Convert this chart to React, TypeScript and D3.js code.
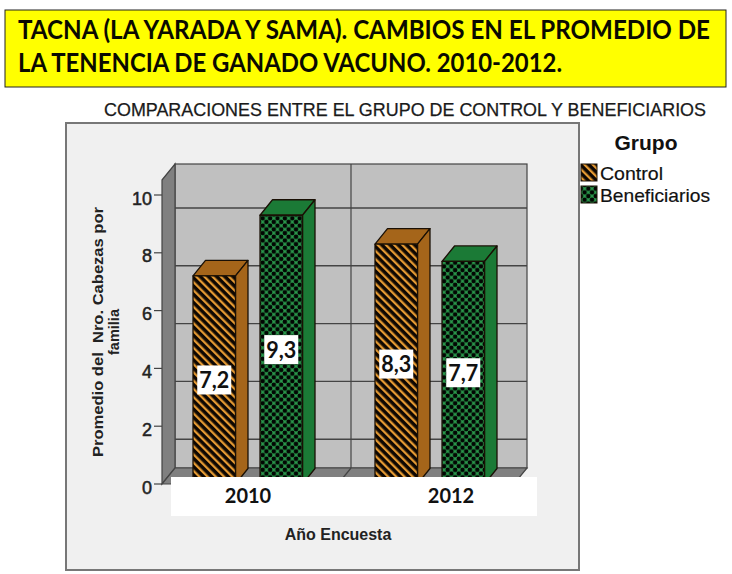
import React from "react";
import * as d3 from "d3";

const years = ["2010", "2012"];
const seriesNames = ["Control", "Beneficiarios"];
const controlValues = [7.2, 8.3];
const beneficiariosValues = [9.3, 7.7];
const valueLabels = [["7,2", "8,3"], ["9,3", "7,7"]];
const yTicks = [0, 2, 4, 6, 8, 10];
const gridTicks = [2, 4, 6, 8, 10];

const y = d3.scaleLinear().domain([0, 10]).range([484, 195]);
const xYear = d3.scalePoint<string>().domain(years).range([247.5, 429.5]);
const xSeries = d3.scaleBand<string>().domain(seriesNames).range([-54.5, 55]).paddingInner(0.366);
const depthX = 12.5;
const depthY = 15.5;
const fills = ["url(#hatchControl)", "url(#hatchBenef)"];
const sides = ["#a5651a", "#1b7a36"];
const sans = "'Liberation Sans', Arial, sans-serif";
const calibri = "Lato, sans-serif";

export default function App() {
  const line = d3.line();
  const wallL = 175, wallR = 527, wallT = 164, wallB = 468;
  const frontL = 162, frontR = 514, frontB = y(0);
  const allValues = [controlValues, beneficiariosValues];
  const p = 7.4;
  return (
    <svg width={732} height={574} style={{ position: "absolute", left: 0, top: 0, display: "block" }}>
      <defs>
        <pattern id="hatchControl" patternUnits="userSpaceOnUse" width={5.8} height={5.8} patternTransform="rotate(45)">
          <rect width={5.8} height={5.8} fill="#e59a33" />
          <rect width={5.8} height={3.5} fill="#0e0702" />
        </pattern>
        <pattern id="hatchBenef" patternUnits="userSpaceOnUse" width={p} height={p}>
          <rect width={p} height={p} fill="#2a9a4c" />
          {[[0, 0], [p, 0], [0, p], [p, p], [p / 2, p / 2]].map(([cx, cy], i) => (
            <circle key={i} cx={cx} cy={cy} r={2.3} fill="#020603" />
          ))}
        </pattern>
      </defs>
      <rect x={0} y={0} width={732} height={574} fill="#ffffff" />

      <rect x={5} y={10} width={721} height={77} fill="#ffff00" stroke="#222" strokeWidth={1} />
      <text transform="translate(18,39) scale(0.895,1)" fontFamily={calibri} fontWeight={700} fontSize={27} fill="#0a0a00">TACNA (LA YARADA Y SAMA). CAMBIOS EN EL PROMEDIO DE</text>
      <text transform="translate(18,72) scale(0.885,1)" fontFamily={calibri} fontWeight={700} fontSize={27} fill="#0a0a00">LA TENENCIA DE GANADO VACUNO. 2010-2012.</text>
      <text x={104} y={116} fontFamily={sans} fontSize={17.5} textLength={602} lengthAdjust="spacingAndGlyphs" fill="#1a1a1a" stroke="#1a1a1a" strokeWidth={0.25}>COMPARACIONES ENTRE EL GRUPO DE CONTROL Y BENEFICIARIOS</text>

      <rect x={66} y={123} width={513} height={447} fill="#f0f0f0" stroke="#777" strokeWidth={2} />

      <rect x={wallL} y={wallT} width={wallR - wallL} height={wallB - wallT} fill="#c0c0c0" stroke="#444" strokeWidth={1.2} />
      <path d={line([[frontL, y(10) - 15], [wallL, wallT], [wallL, wallB], [frontL, frontB]])! + "Z"} fill="#808080" stroke="#444" strokeWidth={1.2} />
      <path d={line([[frontL, frontB], [wallL, wallB], [wallR, wallB], [frontR, frontB]])! + "Z"} fill="#808080" stroke="#444" strokeWidth={1.2} />
      {gridTicks.map((t) => (
        <line key={t} x1={wallL} x2={wallR} y1={y(t) + 13} y2={y(t) + 13} stroke="#444" strokeWidth={1.4} />
      ))}
      <line x1={351} x2={351} y1={wallT} y2={wallB} stroke="#444" strokeWidth={1.2} />
      <line x1={351} x2={338} y1={wallB} y2={frontB} stroke="#444" strokeWidth={1.2} />

      {yTicks.map((t) => (
        <g key={t}>
          <line x1={154} x2={frontL} y1={y(t)} y2={y(t)} stroke="#444" strokeWidth={1.2} />
          <text x={152} y={y(t) + 9.5} textAnchor="end" fontFamily={sans} fontSize={18} fill="#222" stroke="#222" strokeWidth={0.5}>{t}</text>
        </g>
      ))}

      {seriesNames.map((s, si) =>
        years.map((yr, yi) => {
          const v = allValues[si][yi];
          const x0 = xYear(yr)! + xSeries(s)!;
          const x1 = x0 + xSeries.bandwidth();
          const yt = y(v);
          const yb = y(0);
          return (
            <g key={s + yr} stroke="#1a1005" strokeWidth={1.3} strokeLinejoin="round">
              <path d={line([[x0, yt], [x0 + depthX, yt - depthY], [x1 + depthX, yt - depthY], [x1, yt]])! + "Z"} fill={sides[si]} />
              <path d={line([[x1, yt], [x1 + depthX, yt - depthY], [x1 + depthX, yb - depthY], [x1, yb]])! + "Z"} fill={sides[si]} />
              <rect x={x0} y={yt} width={x1 - x0} height={yb - yt} fill={fills[si]} />
            </g>
          );
        })
      )}

      <rect x={171} y={477} width={366} height={39} fill="#ffffff" />
      {years.map((yr, i) => (
        <text key={yr} x={i === 0 ? 248 : 451} y={503} textAnchor="middle" fontFamily={calibri} fontWeight={700} fontSize={20} fill="#111">{yr}</text>
      ))}

      {seriesNames.map((s, si) =>
        years.map((yr, yi) => {
          const v = allValues[si][yi];
          const cx = xYear(yr)! + xSeries(s)! + xSeries.bandwidth() / 2;
          const cy = y(v / 2);
          return (
            <g key={s + yr + "l"}>
              <rect x={cx - 17} y={cy - 14.5} width={34} height={29} fill="#ffffff" />
              <text x={cx} y={cy + 8} textAnchor="middle" fontFamily={calibri} fontWeight={700} fontSize={23.5} textLength={30} lengthAdjust="spacingAndGlyphs" fill="#111">{valueLabels[si][yi]}</text>
            </g>
          );
        })
      )}

      <g transform="translate(103,332) rotate(-90)" fontFamily={sans} fontWeight={700} fontSize={14.5} fill="#222" textAnchor="middle">
        <text x={0} y={0} style={{ whiteSpace: "pre" }} textLength={250} lengthAdjust="spacingAndGlyphs">Promedio del  Nro. Cabezas por</text>
        <text x={0} y={16}>familia</text>
      </g>
      <text x={338} y={540} textAnchor="middle" fontFamily={sans} fontWeight={700} fontSize={16} fill="#222">Año Encuesta</text>

      <text x={646} y={150} textAnchor="middle" fontFamily={sans} fontWeight={700} fontSize={21} fill="#111">Grupo</text>
      {seriesNames.map((s, i) => (
        <g key={s}>
          <rect x={581} y={164 + i * 22} width={16} height={17} fill={fills[i]} stroke="#1a1005" strokeWidth={1} />
          <text x={600} y={180 + i * 22} fontFamily={sans} fontSize={19} fill="#111" stroke="#111" strokeWidth={0.2} textLength={i === 0 ? 63 : 110} lengthAdjust="spacingAndGlyphs">{s}</text>
        </g>
      ))}
    </svg>
  );
}
